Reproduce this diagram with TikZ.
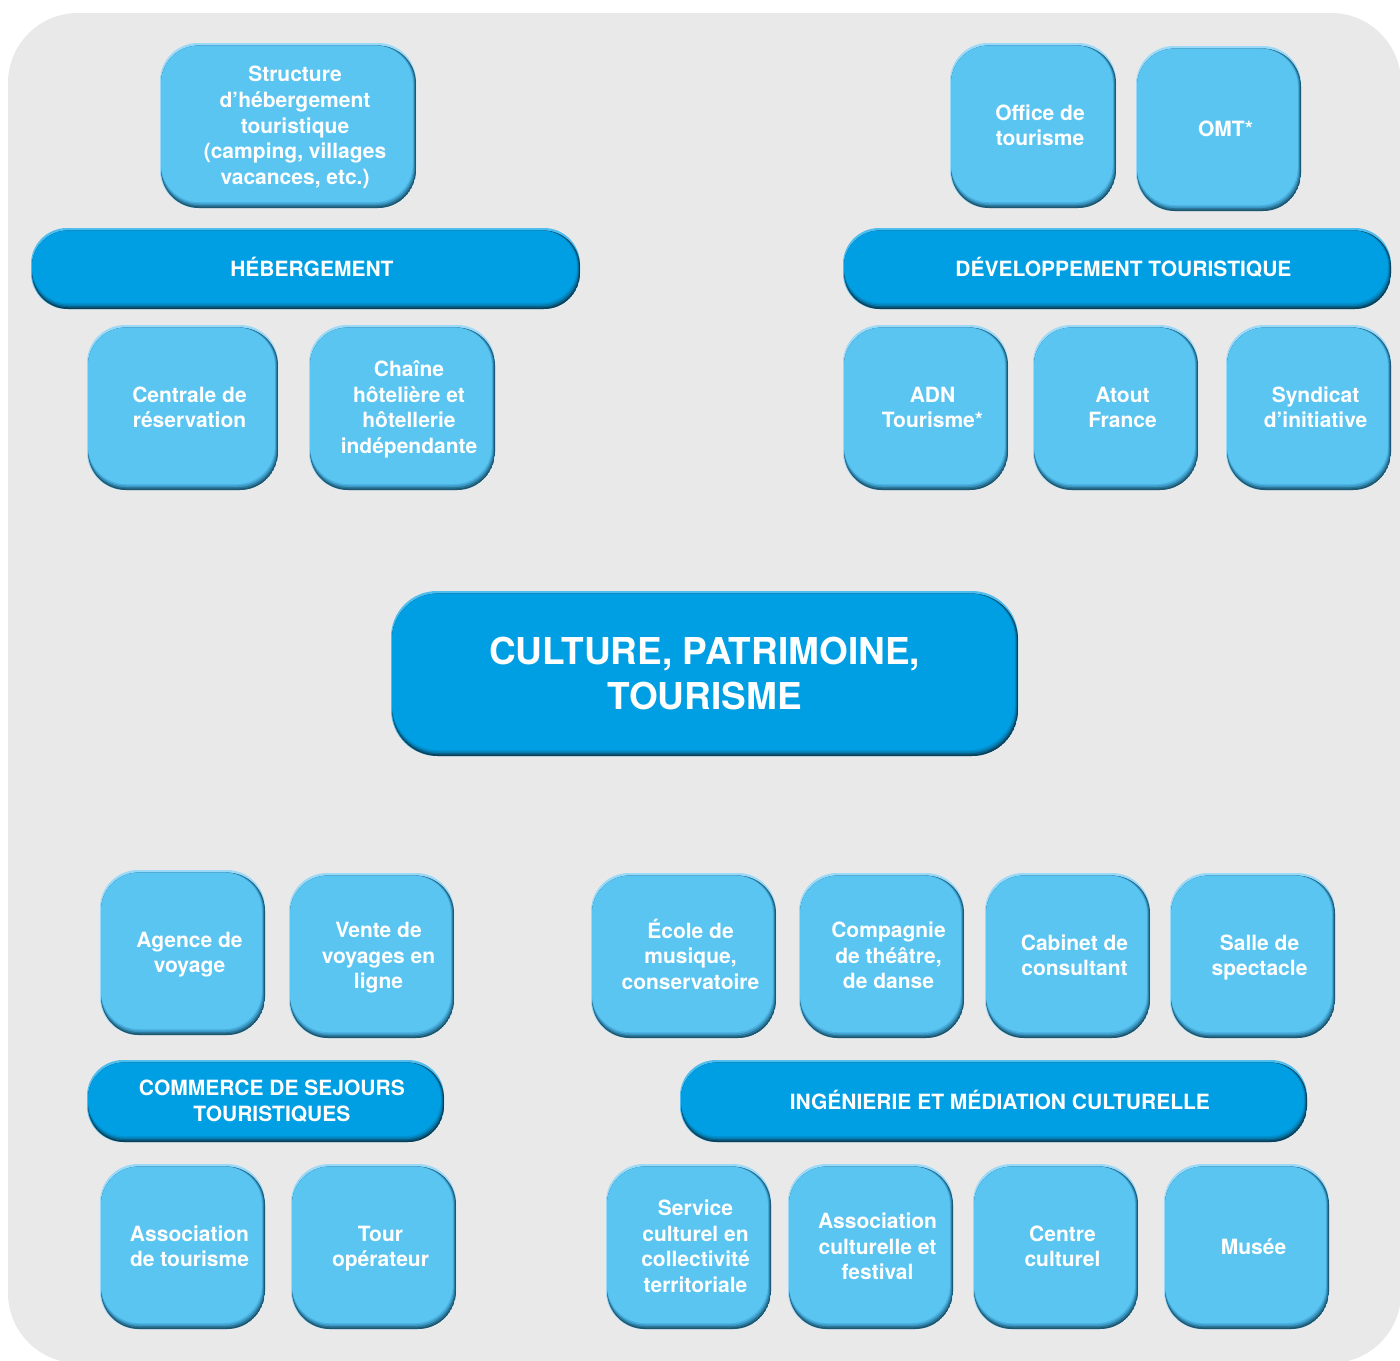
\documentclass[tikz,border=0pt]{standalone}
\usepackage{fontspec}
\setmainfont{TeX Gyre Heros}
\usetikzlibrary{calc}
\definecolor{bg}{HTML}{E9E9E9}
\definecolor{lmain}{HTML}{5BC5F2}
\definecolor{lhl}{HTML}{9AD9F7}
\definecolor{ld0}{HTML}{1C5670}
\definecolor{ld1}{HTML}{2A7596}
\definecolor{ld2}{HTML}{3A96C2}
\definecolor{ld3}{HTML}{4AB1E0}
\definecolor{dmain}{HTML}{009FE3}
\definecolor{dhl}{HTML}{4FBDEE}
\definecolor{dd0}{HTML}{0A3F58}
\definecolor{dd1}{HTML}{075E86}
\definecolor{dd2}{HTML}{047DB2}
\definecolor{dd3}{HTML}{0290CF}
\newcommand\bevlayer[6]{%
  \fill[#1,rounded corners=#6] ($(path picture bounding box.south west)+(#2pt,#3pt)$) rectangle ($(path picture bounding box.north east)+(-#4pt,-#5pt)$);}
\newcommand\bevelset[2]{%
  \bevlayer{#1d0}{0.5}{0}{0}{1.3}{#2}%
  \bevlayer{#1d1}{0.5}{0.75}{0.4}{1.3}{#2}%
  \bevlayer{#1d2}{0.5}{1.5}{0.8}{1.3}{#2}%
  \bevlayer{#1d3}{0.5}{2.25}{1.2}{1.3}{#2}%
  \bevlayer{#1main}{0.5}{3}{1.6}{1.3}{#2}}
\tikzset{
  boxtext/.style={text=white, align=center, inner sep=0pt, font=\fontsize{10.5pt}{12.8pt}\selectfont\bfseries},
  lbox/.style={rounded corners=19pt, fill=lhl, inner sep=0pt, path picture={\bevelset{l}{19pt}}},
  dbar/.style={rounded corners=18pt, fill=dhl, inner sep=0pt, path picture={\bevelset{d}{18pt}}},
  cbox/.style={rounded corners=23pt, fill=dhl, inner sep=0pt, path picture={\bevelset{d}{23pt}}},
  lboxt/.style={boxtext, xshift=3.5pt, yshift=-1.25pt},
  dbart/.style={boxtext, xshift=3.2pt, yshift=-1.25pt},
  cboxt/.style={boxtext, font=\fontsize{18.5pt}{22.5pt}\selectfont\bfseries},
}
\newcommand\mkbox[7][lbox]{%
  \pgfmathsetmacro\mkcx{(#3+#5)/2}%
  \pgfmathsetmacro\mkcy{(#4+#6)/2}%
  \pgfmathsetmacro\mkww{(#5-#3)*0.5}%
  \pgfmathsetmacro\mkhh{(#6-#4)*0.5}%
  \node[#1, minimum width=\mkww pt, minimum height=\mkhh pt] (#2) at (\mkcx,\mkcy) {};
  \node[#1t] (#2t) at (#2.center) {\strut #7\strut};}
\begin{document}
\begin{tikzpicture}[x=0.5pt,y=-0.5pt]
\useasboundingbox (0,0) rectangle (1400,1360);
\fill[white] (0,0) rectangle (1400,1360);
\fill[bg, rounded corners=35pt] (8,13) rectangle (1401,1363);

\mkbox[lbox]{struct}{160}{43}{416}{208}{Structure\\d’hébergement\\touristique\\(camping, villages\\vacances, etc.)}
\mkbox[dbar]{heb}{31}{228}{580}{309}{HÉBERGEMENT}
\mkbox[lbox]{centrale}{87}{325}{278}{490}{Centrale de\\réservation}
\mkbox[lbox]{chaine}{309}{325}{495}{490}{Chaîne\\hôtelière et\\hôtellerie\\indépendante}

\mkbox[lbox]{office}{950}{43}{1116}{208}{Office de\\tourisme}
\mkbox[lbox]{omt}{1136}{46}{1301}{211}{OMT*}
\mkbox[dbar]{dev}{843}{228}{1391}{309}{DÉVELOPPEMENT TOURISTIQUE}
\mkbox[lbox]{adn}{843}{325}{1008}{490}{ADN\\Tourisme*}
\mkbox[lbox]{atout}{1033}{325}{1198}{490}{Atout\\France}
\mkbox[lbox]{syndicat}{1226}{325}{1391}{490}{Syndicat\\d’initiative}

\node[cbox, minimum width=313.5pt, minimum height=82.5pt] (culture) at (704.5,673.5) {};
\node[cboxt] (culturet) at (culture.center) {CULTURE, PATRIMOINE,\\TOURISME};

\mkbox[lbox]{agence}{100}{870}{265}{1035}{Agence de\\voyage}
\mkbox[lbox]{vente}{289}{873}{454}{1038}{Vente de\\voyages en\\ligne}
\mkbox[dbar]{commerce}{87}{1060}{444}{1142}{COMMERCE DE SEJOURS\\TOURISTIQUES}
\mkbox[lbox]{asstour}{100}{1164}{265}{1329}{Association\\de tourisme}
\mkbox[lbox]{tour}{291}{1164}{456}{1329}{Tour\\opérateur}

\mkbox[lbox]{ecole}{591}{873}{776}{1038}{École de\\musique,\\conservatoire}
\mkbox[lbox]{compagnie}{799}{873}{964}{1038}{Compagnie\\de théâtre,\\de danse}
\mkbox[lbox]{cabinet}{985}{873}{1150}{1038}{Cabinet de\\consultant}
\mkbox[lbox]{salle}{1170}{873}{1335}{1038}{Salle de\\spectacle}
\mkbox[dbar]{inge}{680}{1060}{1307}{1142}{INGÉNIERIE ET MÉDIATION CULTURELLE}
\mkbox[lbox]{service}{606}{1164}{771}{1329}{Service\\culturel en\\collectivité\\territoriale}
\mkbox[lbox]{assculture}{788}{1164}{953}{1329}{Association\\culturelle et\\festival}
\mkbox[lbox]{centre}{973}{1164}{1138}{1329}{Centre\\culturel}
\mkbox[lbox]{musee}{1164}{1164}{1329}{1329}{Musée}
\end{tikzpicture}
\end{document}
